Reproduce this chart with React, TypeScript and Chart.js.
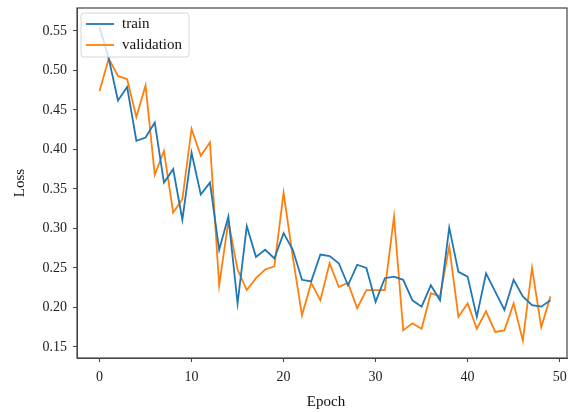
import React, { useEffect, useRef } from "react";
import { Chart, registerables } from "chart.js";

Chart.register(...registerables);

const train = [
  0.555, 0.515, 0.462, 0.479, 0.411, 0.415, 0.434, 0.358, 0.375, 0.311,
  0.396, 0.343, 0.358, 0.273, 0.315, 0.205, 0.303, 0.264, 0.273, 0.262,
  0.294, 0.273, 0.235, 0.233, 0.267, 0.265, 0.256, 0.228, 0.254, 0.25,
  0.207, 0.237, 0.239, 0.235, 0.209, 0.201, 0.228, 0.209, 0.301, 0.245,
  0.239, 0.188, 0.243, 0.22, 0.197, 0.235, 0.214, 0.203, 0.201, 0.209,
];
const validation = [
  0.474, 0.515, 0.493, 0.489, 0.441, 0.481, 0.368, 0.398, 0.32, 0.337,
  0.426, 0.392, 0.409, 0.228, 0.309, 0.248, 0.222, 0.237, 0.248, 0.252,
  0.345, 0.264, 0.19, 0.231, 0.209, 0.256, 0.226, 0.231, 0.199, 0.222,
  0.222, 0.222, 0.315, 0.171, 0.18, 0.173, 0.218, 0.214, 0.277, 0.188,
  0.205, 0.173, 0.195, 0.169, 0.171, 0.205, 0.158, 0.25, 0.175, 0.214,
];
const xTicks = [0, 10, 20, 30, 40, 50];
const yTicks = [0.15, 0.2, 0.25, 0.3, 0.35, 0.4, 0.45, 0.5, 0.55];
const seriesNames = ["train", "validation"];
const colors = ["#1f77b4", "#ff7f0e"];

const FONT = '"Liberation Serif", "DejaVu Serif", serif';

const decor = {
  id: "decor",
  afterDraw(chart: any) {
    const { ctx, chartArea: a } = chart;
    ctx.save();
    // frame
    ctx.strokeStyle = "#444";
    ctx.lineWidth = 1.2;
    ctx.strokeRect(a.left, a.top, a.right - a.left, a.bottom - a.top);
    // legend
    const bx = a.left + 4, by = a.top + 5, bw = 108, bh = 44, r = 3;
    ctx.beginPath();
    ctx.moveTo(bx + r, by);
    ctx.arcTo(bx + bw, by, bx + bw, by + bh, r);
    ctx.arcTo(bx + bw, by + bh, bx, by + bh, r);
    ctx.arcTo(bx, by + bh, bx, by, r);
    ctx.arcTo(bx, by, bx + bw, by, r);
    ctx.closePath();
    ctx.fillStyle = "rgba(255,255,255,0.8)";
    ctx.fill();
    ctx.strokeStyle = "#d6d6d6";
    ctx.lineWidth = 1;
    ctx.stroke();
    ctx.font = `15px ${FONT}`;
    ctx.textBaseline = "middle";
    ctx.textAlign = "left";
    seriesNames.forEach((name, i) => {
      const y = by + 11 + i * 21;
      ctx.strokeStyle = colors[i];
      ctx.lineWidth = 1.8;
      ctx.beginPath();
      ctx.moveTo(bx + 5, y);
      ctx.lineTo(bx + 33, y);
      ctx.stroke();
      ctx.fillStyle = "#111";
      ctx.fillText(name, bx + 41, y);
    });
    // axis titles
    ctx.fillStyle = "#111";
    ctx.font = `15px ${FONT}`;
    ctx.textAlign = "center";
    ctx.fillText("Epoch", 326, 402);
    ctx.translate(20, (a.top + a.bottom) / 2);
    ctx.rotate(-Math.PI / 2);
    ctx.fillText("Loss", 0, 0);
    ctx.restore();
  },
};

export default function App() {
  const ref = useRef<HTMLCanvasElement>(null);
  useEffect(() => {
    if (!ref.current) return;
    const chart = new Chart(ref.current, {
      type: "line",
      data: {
        datasets: [train, validation].map((vals, k) => ({
          label: seriesNames[k],
          data: vals.map((v, i) => ({ x: i, y: v })),
          borderColor: colors[k],
          backgroundColor: colors[k],
          borderWidth: 1.8,
          pointRadius: 0,
          tension: 0,
          fill: false,
        })),
      },
      options: {
        animation: false,
        responsive: false,
        layout: { padding: { left: 0, top: 8, right: 4, bottom: 0 } },
        plugins: { legend: { display: false }, tooltip: { enabled: false } },
        scales: {
          x: {
            type: "linear",
            min: -2.45,
            max: 50.8,
            afterBuildTicks: (axis: any) => {
              axis.ticks = xTicks.map((v) => ({ value: v }));
            },
            afterFit: (axis: any) => {
              axis.height = 54;
              axis.paddingLeft = 0;
              axis.paddingRight = 0;
            },
            grid: { drawOnChartArea: false, drawTicks: true, tickLength: 4, color: "#444" },
            border: { display: true, color: "#444" },
            ticks: {
              padding: 7,
              color: "#222",
              font: { family: FONT, size: 14 },
              maxRotation: 0,
              callback: (v: any) => String(v),
            },
          },
          y: {
            type: "linear",
            min: 0.136,
            max: 0.579,
            afterBuildTicks: (axis: any) => {
              axis.ticks = yTicks.map((v) => ({ value: v }));
            },
            afterFit: (axis: any) => {
              axis.width = 77;
              axis.paddingTop = 0;
              axis.paddingBottom = 0;
            },
            grid: { drawOnChartArea: false, drawTicks: true, tickLength: 4, color: "#444" },
            border: { display: true, color: "#444" },
            ticks: {
              padding: 6,
              color: "#222",
              font: { family: FONT, size: 14 },
              callback: (v: any) => Number(v).toFixed(2),
            },
          },
        },
      },
      plugins: [decor],
    });
    return () => chart.destroy();
  }, []);
  return (
    <div style={{ position: "fixed", left: 0, top: 0, width: 571, height: 412, background: "#fff" }}>
      <canvas ref={ref} width={571} height={412} style={{ width: 571, height: 412 }} />
    </div>
  );
}
